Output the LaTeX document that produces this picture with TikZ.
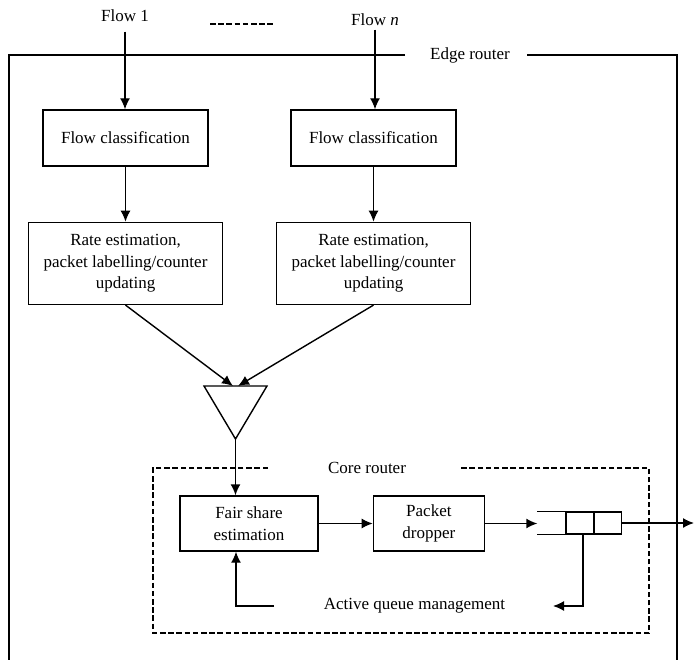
\documentclass[tikz,border=0pt]{standalone}
\usepackage{fontspec}
\setmainfont{Liberation Serif}
\usetikzlibrary{arrows.meta,positioning}
\begin{document}
\begin{tikzpicture}[x=1pt,y=-1pt,font=\fontsize{17}{21.5}\selectfont]
    \tikzstyle{line} = [-{Latex[length=11pt,width=10pt]}, line width=1.4pt]
    \tikzstyle{rec} = [rectangle, draw=black, line width=1.4pt, align=center, inner sep=0pt]
    \tikzstyle{cell} = [rectangle, line width=1.4pt, minimum width=28pt, minimum height=22pt, inner sep=0pt]
    \tikzstyle{frame} = [line width=1.4pt]
    \tikzstyle{core} = [line width=2pt, dash pattern=on 5.5pt off 2.7pt]

    \useasboundingbox (0,0) rectangle (694,660);

    % incoming flows
    \node(flow1) at (125,16) {Flow 1};
    \node(flown) at (375,20) {Flow \textit{n}};
    \coordinate (dotsL) at (210,24);
    \coordinate (dotsR) at (275,24);
    \draw[core] (dotsL) -- (dotsR);

    % edge router
    \coordinate (erA) at (405,55);
    \coordinate (erB) at (527,55);
    \node(edge) at (470,55) {Edge router};
    \draw[frame] (erA) -- (9,55) -- (9,660);
    \draw[frame] (erB) -- (677,55) -- (677,660);

    \node(cls1) [rec, minimum width=165pt, minimum height=56pt] at (125.5,138) {Flow classification};
    \node(cls2) [rec, minimum width=165pt, minimum height=56pt] at (373.5,138) {Flow classification};
    \node(rate1) [rec, minimum width=194pt, minimum height=82pt, below=55pt of cls1]
    {Rate estimation,\\ packet labelling/counter\\ updating};
    \node(rate2) [rec, minimum width=194pt, minimum height=82pt, below=55pt of cls2]
    {Rate estimation,\\ packet labelling/counter\\ updating};

    \draw[line] ([yshift=-6pt]flow1.south) -- (flow1.south |- cls1.north);
    \draw[line] (flown.south) -- (flown.south |- cls2.north);
    \draw[line] (cls1) -- (rate1);
    \draw[line] (cls2) -- (rate2);

    % merging triangle
    \coordinate (triL) at (204,386);
    \coordinate (triR) at (267,386);
    \coordinate (apex) at (235.5,439);
    \coordinate (inL) at (233,386);
    \coordinate (inR) at (238,386);
    \draw[frame] (triL) -- (triR) -- (apex) -- cycle;
    \draw[line] (rate1.south) -- (inL);
    \draw[line] (rate2.south) -- (inR);

    % core router
    \coordinate (crA) at (268,468);
    \coordinate (crB) at (459,468);
    \node(corelbl) at (367,468) {Core router};
    \draw[core] (crA) -- (153,468) -- (153,633) -- (649,633) -- (649,468) -- (crB);

    \node(fair) [rec, minimum width=138pt, minimum height=55pt] at (249,523.5) {Fair share\\ estimation};
    \node(drop) [rec, minimum width=111pt, minimum height=55pt, right=54pt of fair] {Packet\\ dropper};
    \draw[line] (apex) -- (apex |- fair.north);
    \draw[line] (fair) -- (drop);

    % queue
    \node(q1) [cell] at (552,523) {};
    \node(q2) [cell, draw] at (580,523) {};
    \node(q3) [cell, draw] at (607.5,523) {};
    \draw[frame] (q1.north west) -- (q1.north east) (q1.south west) -- (q1.south east);
    \draw[line] (drop.east) -- (drop.east -| q1.west);
    \coordinate (out) at (694,523);
    \draw[line] (q3.east) -- (out);

    % active queue management feedback
    \node(aqm) at (414.5,606) {Active queue management};
    \coordinate (aqmL) at (274,606);
    \coordinate (aqmR) at (553,606);
    \draw[line] ([xshift=3pt]q2.south) |- (aqmR);
    \draw[line] (aqmL) -| ([xshift=-13pt]fair.south);
\end{tikzpicture}
\end{document}
